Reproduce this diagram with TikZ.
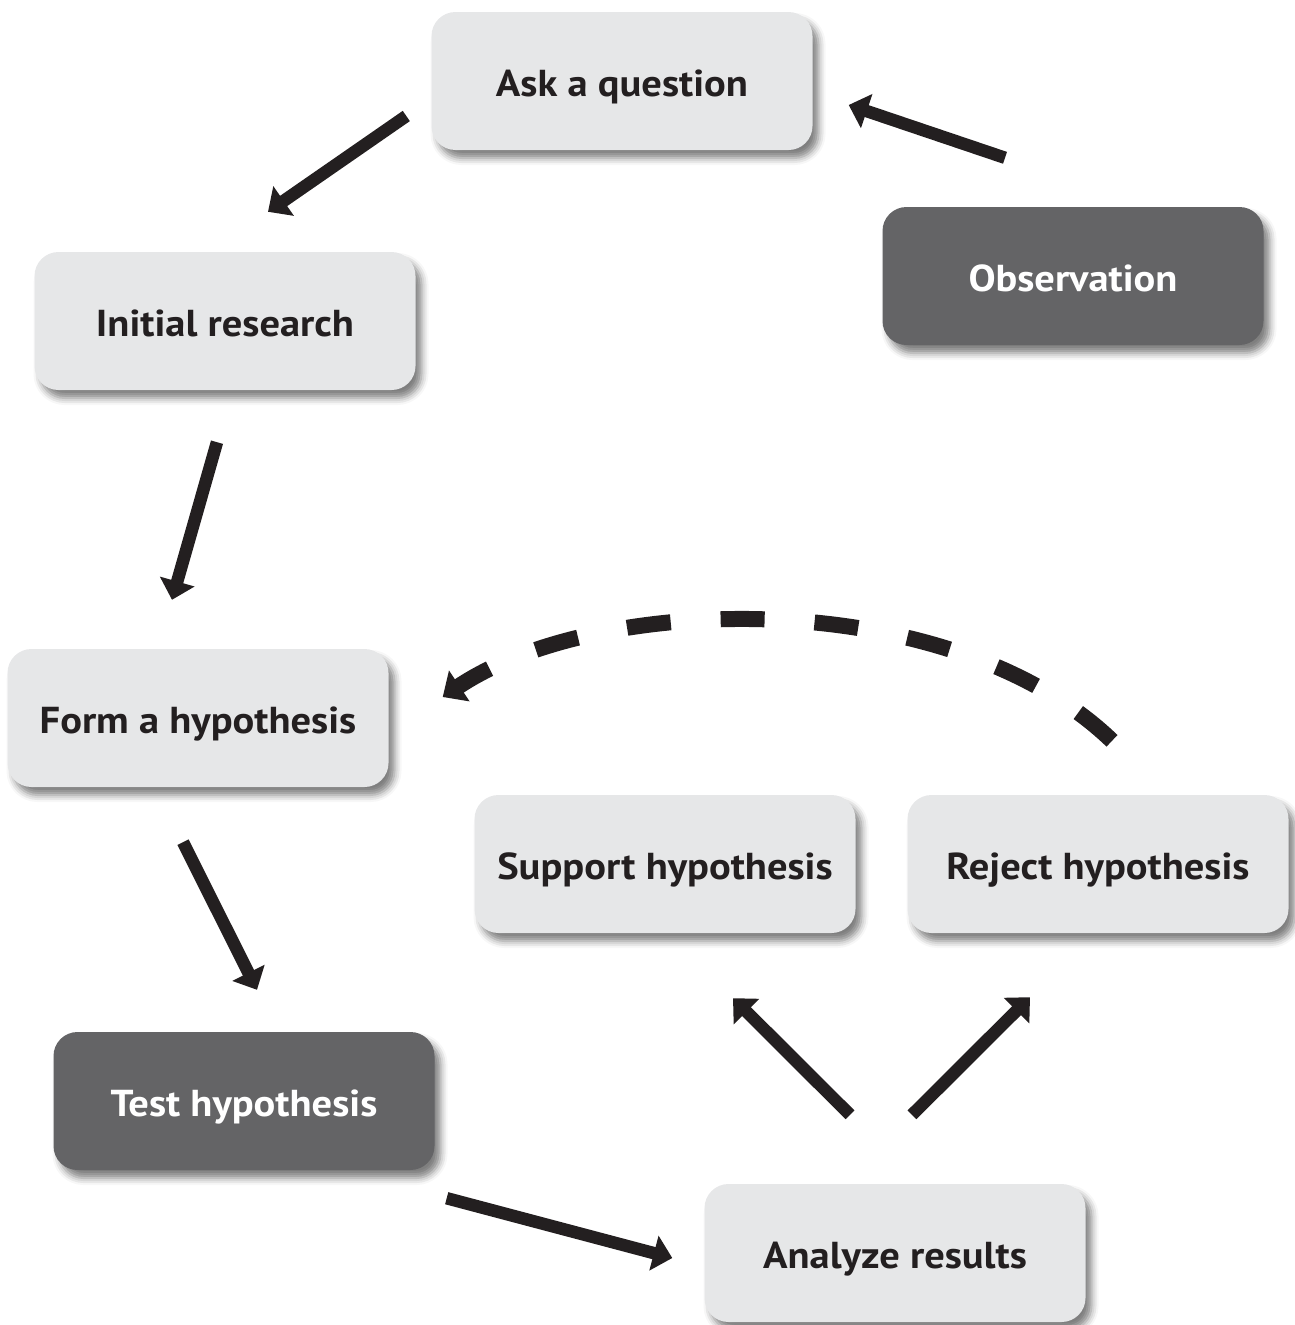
\documentclass[tikz,border=0pt]{standalone}
\usepackage{fontspec}
\setmainfont{PT Sans}[FakeStretch=1.08]
\usetikzlibrary{arrows.meta,shadows.blur}
\definecolor{boxlight}{HTML}{E6E7E8}
\definecolor{boxdark}{HTML}{646466}
\definecolor{ink}{HTML}{231F20}
\tikzset{
  stepbox/.style={rounded corners=24pt, minimum width=381pt, minimum height=138pt,
    inner sep=0pt, text height=36pt, text depth=6pt,
    font=\fontsize{37.5}{44}\selectfont\bfseries,
    blur shadow={shadow xshift=6pt, shadow yshift=-8pt, shadow blur radius=7pt, shadow opacity=50}},
  lightbox/.style={stepbox, fill=boxlight, text=ink},
  darkbox/.style={stepbox, fill=boxdark, text=white},
  arr/.style={draw=ink, line width=12.5pt, -{Triangle[length=19pt,width=35pt]}},
  darr/.style={draw=ink, line width=16pt, dash pattern=on 44pt off 50pt, -{Triangle[length=20pt,width=36pt]}}
}
\begin{document}
\begin{tikzpicture}[x=1pt,y=-1pt]
\useasboundingbox (0,0) rectangle (1294,1325);
\node[lightbox] (ask) at (622,81) {Ask a question};
\node[darkbox] (obs) at (1073,276) {Observation};
\node[lightbox] (init) at (225,321) {Initial research};
\node[lightbox] (form) at (198,718) {Form a hypothesis};
\node[lightbox] (support) at (665,864) {Support hypothesis};
\node[lightbox] (reject) at (1098,864) {Reject hypothesis};
\node[darkbox] (test) at (244,1101) {Test hypothesis};
\node[lightbox] (analyze) at (895,1253) {Analyze results};

\draw[arr] ([shift={(-25,35)}]ask.west) -- ([shift={(43,-40)}]init.north);
\draw[arr] ([shift={(-68,-49)}]obs.north) -- ([shift={(36,24)}]ask.east);
\draw[arr] ([shift={(-8,52)}]init.south) -- ([shift={(-26,-49)}]form.north);
\draw[arr] ([shift={(-15,55)}]form.south) -- ([shift={(13,-42)}]test.north);
\draw[arr] ([shift={(12,28)}]test.south east) -- ([shift={(-32,5)}]analyze.west);
\draw[arr] ([shift={(-45,-69)}]analyze.north) -- ([shift={(68,65)}]support.south);
\draw[arr] ([shift={(17,-69)}]analyze.north) -- ([shift={(-68,64)}]reject.south);
\draw[darr] ([shift={(14,-54)}]reject.north) .. controls (950,585) and (600,592) .. ([shift={(54,-21)}]form.east);
\end{tikzpicture}
\end{document}
